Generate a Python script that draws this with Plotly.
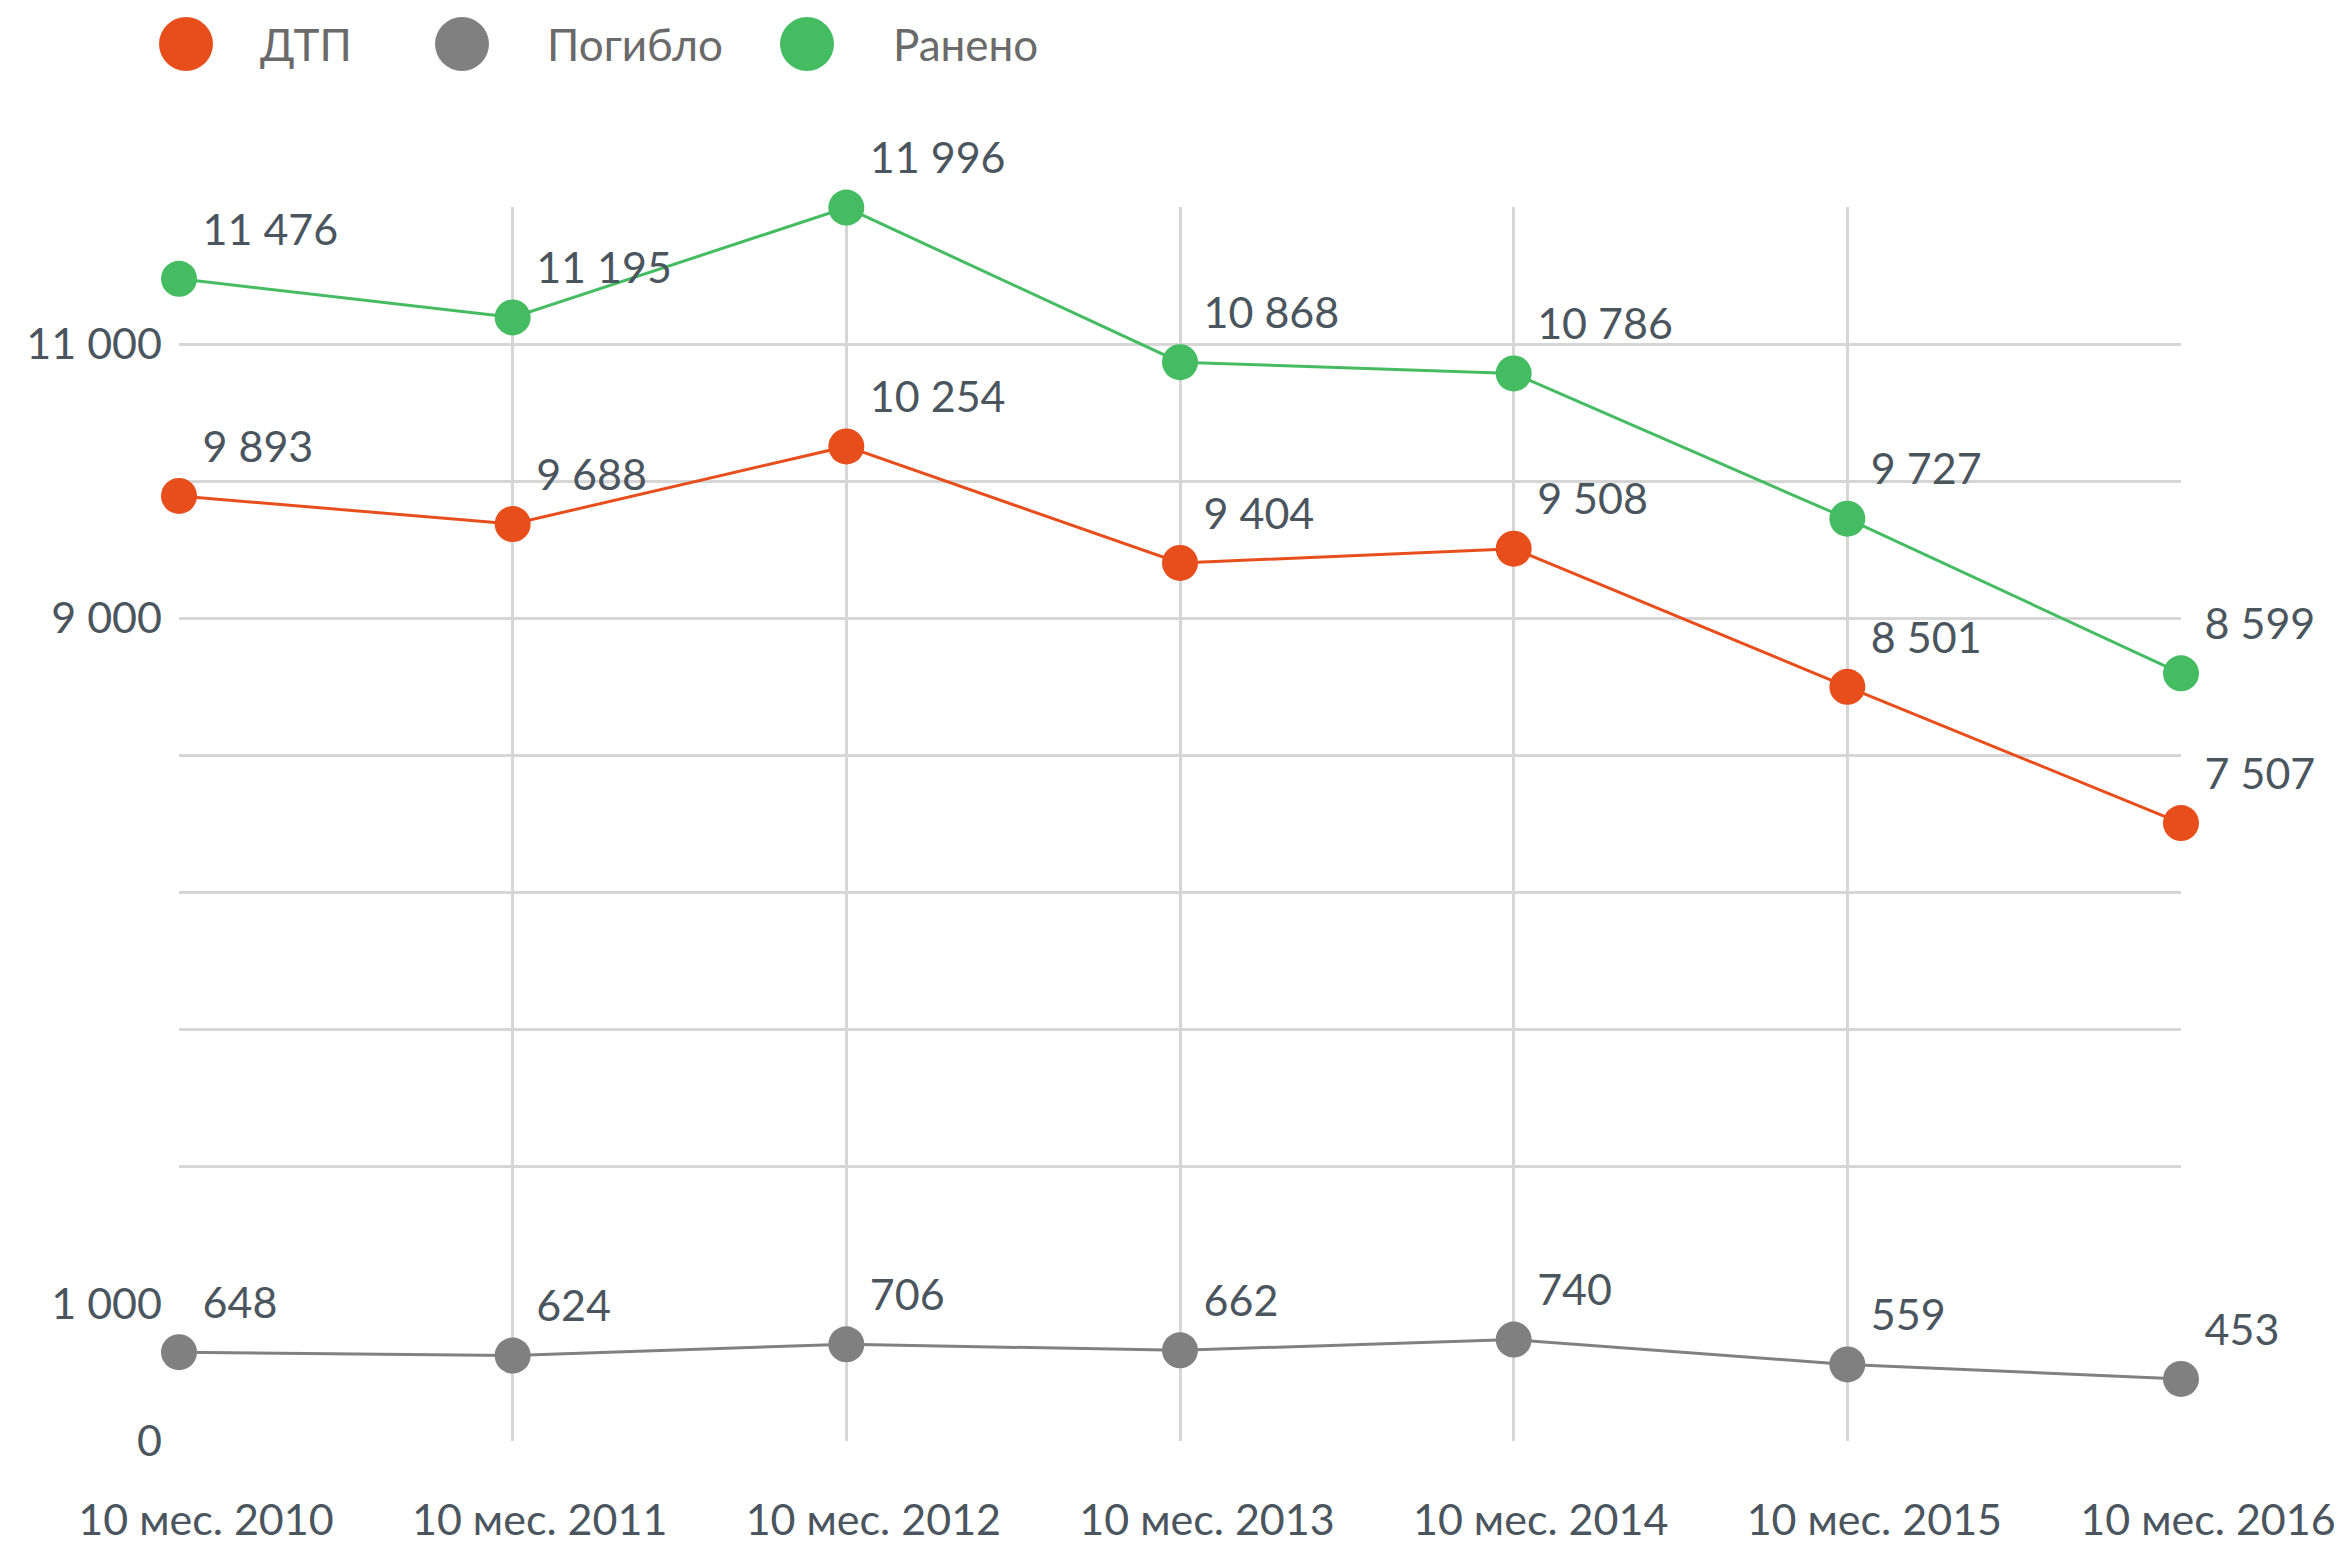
import plotly.graph_objects as go

categories = ["10 мес. 2010", "10 мес. 2011", "10 мес. 2012", "10 мес. 2013",
              "10 мес. 2014", "10 мес. 2015", "10 мес. 2016"]
dtp = [9893, 9688, 10254, 9404, 9508, 8501, 7507]
killed = [648, 624, 706, 662, 740, 559, 453]
injured = [11476, 11195, 11996, 10868, 10786, 9727, 8599]

series_names = ["ДТП", "Погибло", "Ранено"]
colors = ["#E84E1C", "#808080", "#45BC61"]

lower_ticks = [0, 1000]
lower_ticktext = ["0", "1 000"]
upper_ticks = [4000, 5000, 6000, 7000, 8000, 9000, 10000, 11000, 12000]
upper_ticktext = ["", "", "", "", "", "9 000", "", "11 000", ""]

FONT = "Lato, 'Open Sans', sans-serif"
TXT = "#4b555e"
GRID = "#d6d6d6"
FS = 43


def fmt(v):
    return f"{v:,}".replace(",", " ")


fig = go.Figure()


def add(values, name, color, yaxis):
    fig.add_trace(go.Scatter(
        x=categories, y=values, name=name, yaxis=yaxis,
        mode="lines+markers+text",
        line=dict(color=color, width=3),
        marker=dict(color=color, size=36),
        text=[fmt(v) for v in values],
        textposition="top right",
        textfont=dict(family=FONT, size=FS, color=TXT),
        cliponaxis=False,
        showlegend=False,
    ))


add(dtp, series_names[0], colors[0], "y2")
add(killed, series_names[1], colors[1], "y")
add(injured, series_names[2], colors[2], "y2")

# the page body has an 8px margin; figure sized to fit inside the window
W, H = 2328, 1537
ml, mr, mt, mb = 171, 155, 199, 104
pw, ph = W - ml - mr, H - mt - mb
split = 137 / ph

fig.update_layout(
    width=W, height=H,
    margin=dict(l=ml, r=mr, t=mt, b=mb, autoexpand=False),
    paper_bgcolor="white", plot_bgcolor="white",
    font=dict(family=FONT, size=FS, color=TXT),
    xaxis=dict(
        type="category", range=[0, len(categories) - 1], anchor="y",
        showgrid=True, gridcolor=GRID, gridwidth=3,
        showline=False, zeroline=False, ticks="", automargin=False,
        tickfont=dict(size=FS, color=TXT),
        ticklabelstandoff=50, ticklabelshift=27,
    ),
    yaxis=dict(
        domain=[0, split], range=[0, 1000], anchor="x",
        tickvals=lower_ticks, ticktext=lower_ticktext,
        showgrid=True, gridcolor=GRID, gridwidth=3,
        showline=False, zeroline=False, ticks="", automargin=False,
        tickfont=dict(size=FS, color=TXT), ticklabelstandoff=16,
    ),
    yaxis2=dict(
        domain=[split, 1], range=[4000, 12000], anchor="x",
        tickvals=upper_ticks, ticktext=upper_ticktext,
        showgrid=True, gridcolor=GRID, gridwidth=3,
        showline=False, zeroline=False, ticks="", automargin=False,
        tickfont=dict(size=FS, color=TXT), ticklabelstandoff=16,
    ),
)

# Custom legend with large circles (figure pixel coordinates)
legend_circle_x = [178, 454, 799]
legend_text_x = [250, 537, 883]
legend_y = 36
for name, color, cx, tx in zip(series_names, colors, legend_circle_x, legend_text_x):
    px = (cx - ml) / pw
    py = 1 + (mt - legend_y) / ph
    fig.add_shape(type="circle", xref="paper", yref="paper",
                  xsizemode="pixel", ysizemode="pixel",
                  xanchor=px, yanchor=py, x0=-27, x1=27, y0=-27, y1=27,
                  fillcolor=color, line=dict(width=0))
    fig.add_annotation(text=name, xref="paper", yref="paper",
                       x=(tx - ml) / pw, y=py, xanchor="left", yanchor="middle",
                       showarrow=False,
                       font=dict(family=FONT, size=44, color="#6a6a6a"))

fig.write_html("out.html")
